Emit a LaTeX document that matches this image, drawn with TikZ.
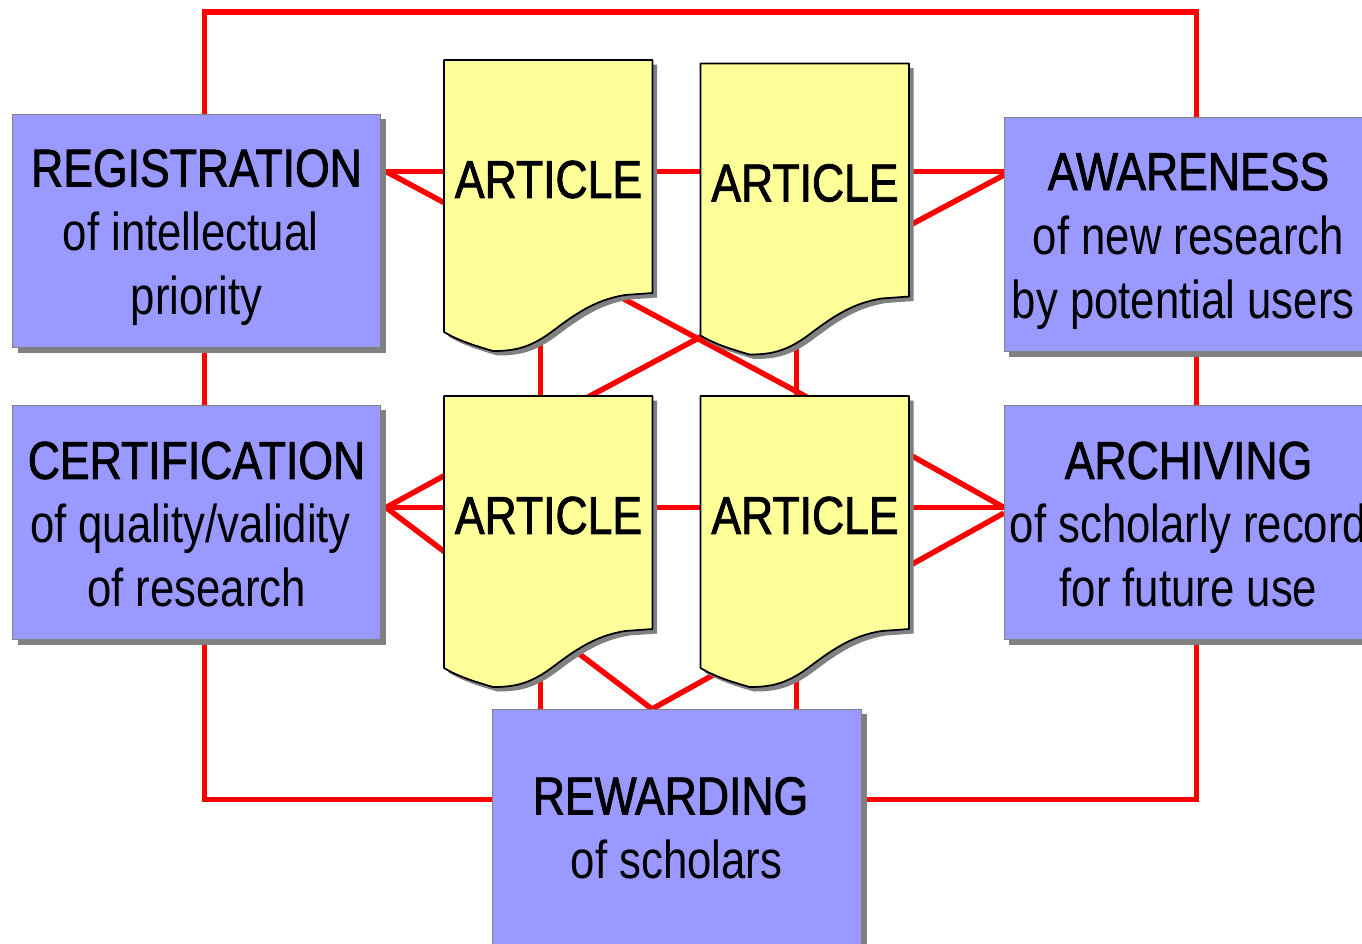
\documentclass[tikz,border=0pt]{standalone}
\usepackage{fontspec}
\setmainfont[FakeStretch=0.82]{Liberation Sans}
\newfontfamily\headfont[FakeStretch=0.835,FakeBold=1.5]{Liberation Sans}
\usetikzlibrary{shadows}
\definecolor{boxblue}{HTML}{9999FF}
\definecolor{docyellow}{HTML}{FFFF99}
\definecolor{shadowgray}{HTML}{808080}
\tikzset{
  link/.style={draw=red,line width=4.1pt,line join=miter,line cap=butt},
  bluebox/.style={rectangle,fill=boxblue,draw=shadowgray,line width=0.75pt,inner sep=0pt,outer sep=0pt,
    copy shadow={shadow xshift=3.75pt,shadow yshift=-3.75pt,fill=shadowgray,draw=none}},
  boxtext/.style={align=center,inner sep=0pt,font=\fontsize{40}{48}\selectfont},
  doctext/.style={inner sep=0pt,font=\fontsize{40}{48}\selectfont\headfont},
}
\newcommand{\docpath}{(0,0) -- (208.5,0) -- (208.5,233) -- (181,235)
  .. controls (150,240) and (130,255) .. (106,273)
  .. controls (85,288) and (70,291) .. (49,291)
  .. controls (32,286) and (15,281) .. (0,272) -- cycle}
\newcommand{\docshape}[3]{%
  \begin{scope}[shift={(#2,#3)}]
    \fill[shadowgray,shift={(4.5,4.5)}] \docpath;
    \draw[fill=docyellow,draw=black,line width=1.3pt,line join=round] \docpath;
    \node[doctext] (#1) at (104.5,119.5) {ARTICLE};
  \end{scope}}
\begin{document}
\begin{tikzpicture}[x=0.75pt,y=-0.75pt]
\useasboundingbox (0,0) rectangle (1362,943);
\clip (0,0) rectangle (1362,943);
% junctions
\coordinate (regTop) at (204.7,116);
\coordinate (frameTL) at (204.7,12);
\coordinate (frameTR) at (1196.7,12);
\coordinate (awaTop) at (1196.7,119);
\coordinate (regBot) at (204.7,348);
\coordinate (certTop) at (204.7,407);
\coordinate (awaBot) at (1196.7,350);
\coordinate (archTop) at (1196.7,407);
\coordinate (certBot) at (204.7,640);
\coordinate (frameBL) at (204.7,799.5);
\coordinate (rewL) at (494,799.5);
\coordinate (archBot) at (1196.7,640);
\coordinate (frameBR) at (1196.7,799.5);
\coordinate (rewR) at (860,799.5);
\coordinate (regE) at (386,171.5);
\coordinate (awaW) at (1004,171.5);
\coordinate (awaWlow) at (1004,175);
\coordinate (certE) at (386,507.5);
\coordinate (archW) at (1004,507.5);
\coordinate (archWlow) at (1004,513);
\coordinate (topA) at (590,396);
\coordinate (topB) at (805,396);
\coordinate (rewV) at (652,709);
\coordinate (v1a) at (540.7,340);
\coordinate (v1b) at (540.7,400);
\coordinate (v2a) at (796.7,340);
\coordinate (v2b) at (796.7,400);
\coordinate (v3a) at (540.7,680);
\coordinate (v3b) at (540.7,712);
\coordinate (v4a) at (796.7,680);
\coordinate (v4b) at (796.7,712);
% connectors
\draw[link] (regTop) -- (frameTL) -- (frameTR) -- (awaTop);
\draw[link] (regBot) -- (certTop);
\draw[link] (awaBot) -- (archTop);
\draw[link] (certBot) -- (frameBL) -- (rewL);
\draw[link] (archBot) -- (frameBR) -- (rewR);
\draw[link] (regE) -- (awaW);
\draw[link] (certE) -- (archW);
\draw[link] (regE) -- (topB) -- (archW);
\draw[link] (awaWlow) -- (topA) -- (certE);
\draw[link] (certE) -- (rewV) -- (archWlow);
\draw[link] (v1a) -- (v1b);
\draw[link] (v2a) -- (v2b);
\draw[link] (v3a) -- (v3b);
\draw[link] (v4a) -- (v4b);
% boxes
\node[bluebox,minimum width=276pt,minimum height=175pt] (reg) at (196.5,231) {};
\node[bluebox,minimum width=276pt,minimum height=176pt] (cert) at (196.5,522.6) {};
\node[bluebox,minimum width=276.75pt,minimum height=176pt] (awa) at (1188.5,234.6) {};
\node[bluebox,minimum width=276.75pt,minimum height=176pt] (arch) at (1188.5,522.6) {};
\node[bluebox,minimum width=277pt,minimum height=240pt] (rew) at (677,869.3) {};
% documents
\docshape{d1}{444}{60}
\docshape{d2}{700.5}{63.5}
\docshape{d3}{444}{396}
\docshape{d4}{700.5}{396}
% labels
\node[boxtext] (regT) at (196.5,237.5) {{\headfont REGISTRATION}\\\hspace*{-9pt}of intellectual\\priority};
\node[boxtext] (certT) at (196.5,524.5) {{\headfont CERTIFICATION}\\\hspace*{-9pt}of quality/validity\\of research};
\node[boxtext] (awaT) at (1188.5,241) {{\headfont AWARENESS}\\of new research\\\hspace*{-8pt}by potential users};
\node[boxtext] (archT) at (1188.5,524.5) {{\headfont ARCHIVING}\\of scholarly record\\for future use};
\node[boxtext] (rewT) at (676.5,828) {\hspace*{-9pt}{\headfont REWARDING}\\of scholars};
\end{tikzpicture}
\end{document}
